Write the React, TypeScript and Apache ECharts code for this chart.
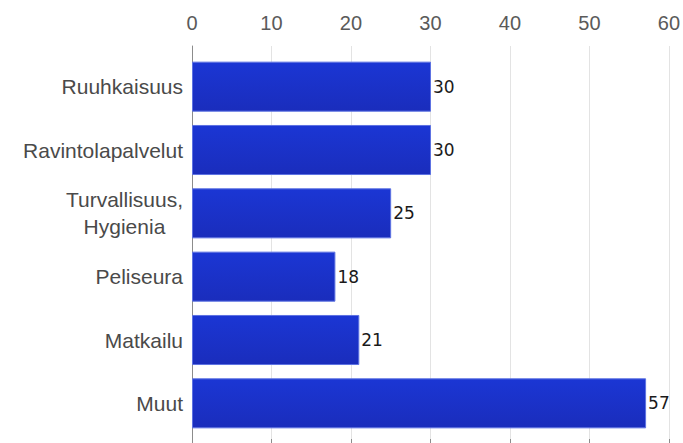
import React, { useEffect, useRef } from "react";
import * as echarts from "echarts";

const categories = ["Ruuhkaisuus", "Ravintolapalvelut", "Turvallisuus,\nHygienia", "Peliseura", "Matkailu", "Muut"];
const values = [30, 30, 25, 18, 21, 57];
const xTicks = [0, 10, 20, 30, 40, 50, 60];

export default function App() {
  const ref = useRef<HTMLDivElement>(null);
  useEffect(() => {
    document.body.style.margin = "0";
    const chart = echarts.init(ref.current!, null, { renderer: "svg" });
    const font = "'Liberation Sans', Arial, sans-serif";
    chart.setOption({
      animation: false,
      backgroundColor: "#ffffff",
      grid: [
        { left: 192, right: 13, top: 46, bottom: 0 },
        { left: 192, right: 13, top: 55, bottom: 8 },
      ],
      xAxis: [
        {
          gridIndex: 0,
          type: "value",
          position: "top",
          min: xTicks[0],
          max: xTicks[xTicks.length - 1],
          interval: 10,
          axisLine: { show: true, lineStyle: { color: "#8c8c8c", width: 1 } },
          axisTick: { show: true, length: 4, lineStyle: { color: "#8c8c8c" } },
          axisLabel: { color: "#5a5a5a", fontSize: 20, fontFamily: font, margin: 13 },
          splitLine: { show: true, lineStyle: { color: "#e3e3e3", width: 1 } },
        },
        { gridIndex: 1, type: "value", min: 0, max: 60, show: false },
      ],
      yAxis: [
        {
          gridIndex: 0,
          type: "value",
          min: 0,
          max: 1,
          axisLine: { show: true, lineStyle: { color: "#8c8c8c", width: 1 } },
          axisTick: { show: false },
          axisLabel: { show: false },
          splitLine: { show: false },
        },
        {
          gridIndex: 1,
          type: "category",
          inverse: true,
          data: categories,
          axisLine: { show: false },
          axisTick: { show: false },
          splitLine: { show: false },
          axisLabel: {
            margin: 9,
            color: "#4a4a4a",
            fontSize: 21,
            fontFamily: font,
            lineHeight: 27,
            formatter: (v: string) =>
              v
                .split("\n")
                .map((s) => `{c|${s}}`)
                .join("\n"),
            rich: {
              c: { align: "center", color: "#4a4a4a", fontSize: 21, fontFamily: font, lineHeight: 27 },
            },
          },
        },
      ],
      series: [
        {
          type: "bar",
          xAxisIndex: 1,
          yAxisIndex: 1,
          data: values,
          barCategoryGap: "21%",
          itemStyle: {
            color: new echarts.graphic.LinearGradient(0, 0, 0, 1, [
              { offset: 0, color: "#1b36d4" },
              { offset: 1, color: "#1a2dbc" },
            ]),
            borderColor: "#5d72e2",
            borderWidth: 1,
          },
          label: {
            show: true,
            position: "right",
            distance: 2,
            color: "#1a1a1a",
            fontSize: 17,
            fontFamily: "'DejaVu Sans', Verdana, sans-serif",
          },
        },
      ],
    });
    return () => chart.dispose();
  }, []);
  return <div ref={ref} style={{ position: "fixed", left: 0, top: 0, width: 683, height: 443 }} />;
}
